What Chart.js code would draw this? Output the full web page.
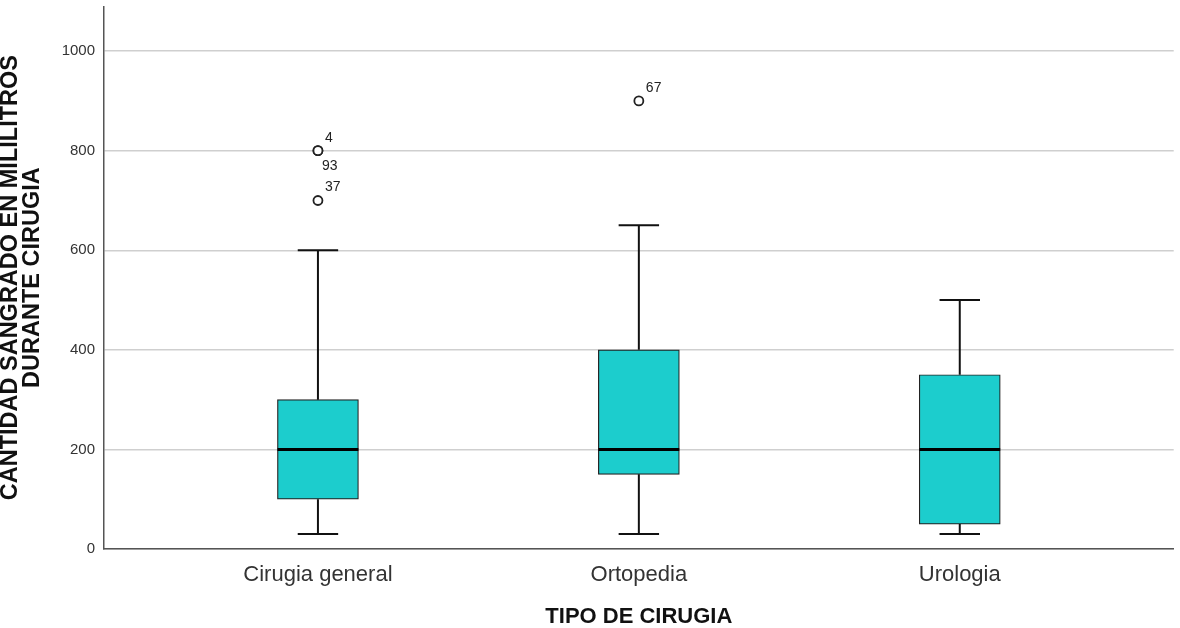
<!DOCTYPE html>
<html>
<head>
<meta charset="utf-8">
<script src="https://cdn.jsdelivr.net/npm/chart.js@4.4.1/dist/chart.umd.min.js"></script>
<style>
    html, body { margin: 0; padding: 0; background: #fff; }
    #wrap { width: 1180px; height: 628px; }
</style>
</head>
<body>
<div id="wrap"><canvas id="boxChart"></canvas></div>
<script>
const categories = ["Cirugia general", "Ortopedia", "Urologia"];
const whiskerLow = [30, 30, 30];
const q1 = [100, 150, 50];
const median = [200, 200, 200];
const q3 = [300, 400, 350];
const whiskerHigh = [600, 650, 500];

const outlierGroup = [1, 1, 1, 2];
const outlierValues = [800, 800, 700, 900];
const outlierIds = ["4", "93", "37", "67"];

const yTicks = [0, 200, 400, 600, 800, 1000];

const boxWidth = 0.252;   // in x units (one category = 1)
const capWidth = boxWidth / 2;

// whiskers + caps as one broken line
const whiskerPoints = [];
categories.forEach((name, i) => {
    const c = i + 1;
    whiskerPoints.push({ x: c, y: whiskerLow[i] }, { x: c, y: q1[i] }, { x: c, y: null });
    whiskerPoints.push({ x: c, y: q3[i] }, { x: c, y: whiskerHigh[i] }, { x: c, y: null });
    whiskerPoints.push({ x: c - capWidth / 2, y: whiskerLow[i] }, { x: c + capWidth / 2, y: whiskerLow[i] }, { x: c, y: null });
    whiskerPoints.push({ x: c - capWidth / 2, y: whiskerHigh[i] }, { x: c + capWidth / 2, y: whiskerHigh[i] }, { x: c, y: null });
});

const medianPoints = [];
categories.forEach((name, i) => {
    const c = i + 1;
    medianPoints.push({ x: c - boxWidth / 2, y: median[i] }, { x: c + boxWidth / 2, y: median[i] }, { x: c, y: null });
});

const outlierPoints = outlierValues.map((v, i) => ({ x: outlierGroup[i], y: v }));

const outlierLabels = {
    id: "outlierLabels",
    afterDatasetsDraw(chart) {
        const { ctx, scales } = chart;
        ctx.save();
        ctx.font = "14px 'Liberation Sans', Arial, sans-serif";
        ctx.fillStyle = "#222";
        ctx.textBaseline = "middle";
        ctx.textAlign = "left";
        outlierIds.forEach((id, i) => {
            const px = scales.x.getPixelForValue(outlierGroup[i]);
            const py = scales.y.getPixelForValue(outlierValues[i]);
            // a second point on the same spot gets its label underneath
            const dup = outlierValues.slice(0, i).some((v, j) => v === outlierValues[i] && outlierGroup[j] === outlierGroup[i]);
            if (dup) {
                ctx.fillText(id, px + 4, py + 15);
            } else {
                ctx.fillText(id, px + 7, py - 13);
            }
        });
        ctx.restore();
    }
};

const chart = new Chart(document.getElementById("boxChart"), {
    type: "bar",
    data: {
        datasets: [
            {
                type: "line",
                data: medianPoints,
                borderColor: "#000",
                borderWidth: 3,
                pointRadius: 0,
                spanGaps: false,
                order: 0
            },
            {
                type: "scatter",
                data: outlierPoints,
                pointRadius: 4.5,
                pointBackgroundColor: "#fff",
                pointBorderColor: "#222",
                pointBorderWidth: 1.8,
                order: 1
            },
            {
                type: "line",
                data: whiskerPoints,
                borderColor: "#111",
                borderWidth: 2,
                pointRadius: 0,
                spanGaps: false,
                order: 2
            },
            {
                type: "bar",
                data: categories.map((name, i) => ({ x: i + 1, y: [q1[i], q3[i]] })),
                backgroundColor: "#1ccdcd",
                borderColor: "#222",
                borderWidth: 1.2,
                borderSkipped: false,
                barThickness: 81,
                order: 3
            }
        ]
    },
    options: {
        responsive: true,
        maintainAspectRatio: false,
        animation: false,
        layout: { padding: { top: 5, right: 5, left: 0, bottom: 0 } },
        plugins: {
            legend: { display: false },
            tooltip: { enabled: false }
        },
        scales: {
            x: {
                type: "linear",
                offset: false,
                min: 1 / 3,
                max: 11 / 3,
                afterBuildTicks: (scale) => {
                    scale.ticks = categories.map((name, i) => ({ value: i + 1 }));
                },
                afterFit: (scale) => {
                    scale.height = 79;
                    scale.paddingLeft = 0;
                    scale.paddingRight = 0;
                },
                ticks: {
                    color: "#333",
                    padding: 5,
                    font: { family: "'Liberation Sans', Arial, sans-serif", size: 22 },
                    callback: (value) => categories[value - 1]
                },
                grid: { display: false },
                border: { color: "#555", width: 1.5 },
                title: {
                    display: true,
                    text: "TIPO DE CIRUGIA",
                    color: "#111",
                    padding: { top: 0, bottom: 0 },
                    font: { family: "'Liberation Sans', Arial, sans-serif", size: 22, weight: "bold", lineHeight: 1 }
                }
            },
            y: {
                min: 0,
                max: 1090,
                afterBuildTicks: (scale) => {
                    scale.ticks = yTicks.map((v) => ({ value: v }));
                },
                afterFit: (scale) => {
                    scale.width = 104;
                    scale.paddingTop = 0;
                    scale.paddingBottom = 0;
                },
                ticks: {
                    color: "#333",
                    padding: 9,
                    font: { family: "'Liberation Sans', Arial, sans-serif", size: 15 },
                    callback: (value) => String(value)
                },
                grid: {
                    color: "#cfcfcf",
                    lineWidth: 1.5,
                    drawTicks: false
                },
                border: { color: "#555", width: 1.5 },
                title: {
                    display: true,
                    text: ["CANTIDAD SANGRADO EN MILILITROS", "DURANTE CIRUGIA"],
                    color: "#111",
                    padding: { top: 0, bottom: 0 },
                    font: { family: "'Liberation Sans', Arial, sans-serif", size: 23.5, weight: "bold", lineHeight: "22px" }
                }
            }
        }
    },
    plugins: [outlierLabels]
});
</script>
</body>
</html>
